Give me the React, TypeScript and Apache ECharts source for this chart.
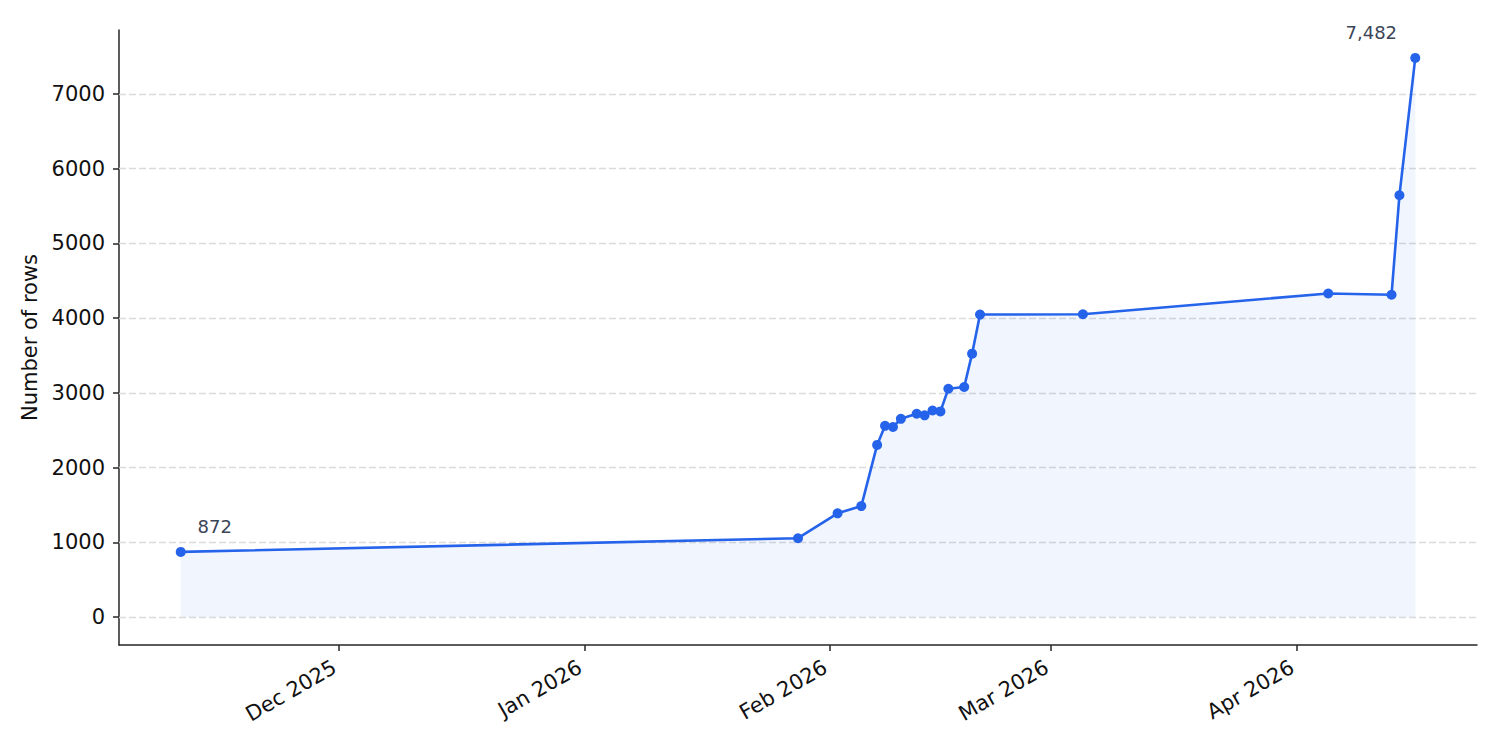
import React, { useEffect, useRef } from "react";
import * as echarts from "echarts";

const dates = [
  "2025-11-11", "2026-01-28", "2026-02-02", "2026-02-05", "2026-02-07",
  "2026-02-08", "2026-02-09", "2026-02-10", "2026-02-12", "2026-02-13",
  "2026-02-14", "2026-02-15", "2026-02-16", "2026-02-18", "2026-02-19",
  "2026-02-20", "2026-03-05", "2026-04-05", "2026-04-13", "2026-04-14",
  "2026-04-16",
];
const rows = [
  872, 1055, 1388, 1485, 2304,
  2559, 2543, 2653, 2720, 2699,
  2764, 2752, 3055, 3078, 3525,
  4048, 4052, 4330, 4313, 5645,
  7482,
];
const monthTicks = ["2025-12-01", "2026-01-01", "2026-02-01", "2026-03-01", "2026-04-01"];
const monthLabels = ["Dec 2025", "Jan 2026", "Feb 2026", "Mar 2026", "Apr 2026"];
const yTicks = [0, 1000, 2000, 3000, 4000, 5000, 6000, 7000];
const yLabel = "Number of rows";

const toDay = (s: string) => {
  const [y, m, d] = s.split("-").map(Number);
  return Date.UTC(y, m - 1, d) / 86400000;
};

const FONT = "DejaVu Sans";
const FS = 21;

export default function App() {
  const ref = useRef<HTMLDivElement>(null);
  useEffect(() => {
    if (!ref.current) return;
    const chart = echarts.init(ref.current, undefined, { renderer: "svg" });
    const xs = dates.map(toDay);
    const x0 = Math.min(...xs);
    const x1 = Math.max(...xs);
    const xpad = (x1 - x0) * 0.05;
    const ymax = Math.max(...rows);
    const ypad = ymax * 0.05;
    const tickDays = monthTicks.map(toDay);
    const lastIdx = rows.length - 1;

    const data = xs.map((x, i) => {
      const item: any = { value: [x, rows[i]] };
      if (i === 0 || i === lastIdx) {
        item.label = {
          show: true,
          position: "top",
          offset: i === 0 ? [34, -6] : [-44, -6],
          formatter: (p: any) => Number(p.value[1]).toLocaleString("en-US"),
          color: "#3a4556",
          fontSize: 18,
          fontFamily: FONT,
        };
      }
      return item;
    });

    chart.setOption({
      animation: false,
      backgroundColor: "#ffffff",
      grid: { left: 119, right: 23, top: 30, bottom: 105, containLabel: false, outerBoundsMode: "none" },
      xAxis: {
        type: "value",
        min: x0 - xpad,
        max: x1 + xpad,
        splitLine: { show: false },
        axisLine: { show: true, onZero: false, lineStyle: { color: "#262626", width: 1.5 } },
        axisTick: {
          show: true,
          length: 6,
          customValues: tickDays,
          lineStyle: { color: "#262626", width: 1.5 },
        },
        axisLabel: {
          customValues: tickDays,
          rotate: 30,
          margin: 18,
          padding: [0, 5, 0, 0],
          fontSize: FS,
          fontFamily: FONT,
          color: "#111111",
          formatter: (v: number) => {
            const idx = tickDays.findIndex((t) => Math.abs(t - v) < 0.5);
            return idx >= 0 ? monthLabels[idx] : "";
          },
        },
      },
      yAxis: {
        type: "value",
        min: -ypad,
        max: ymax + ypad,
        name: yLabel,
        nameLocation: "middle",
        nameGap: 74,
        nameRotate: 90,
        nameTextStyle: { fontSize: FS, fontFamily: FONT, color: "#111111" },
        splitLine: { show: false },
        axisLine: { show: true, onZero: false, lineStyle: { color: "#262626", width: 1.5 } },
        axisTick: {
          show: true,
          length: 6,
          customValues: yTicks,
          lineStyle: { color: "#262626", width: 1.5 },
        },
        axisLabel: {
          customValues: yTicks,
          margin: 14,
          fontSize: FS,
          fontFamily: FONT,
          color: "#111111",
          formatter: (v: number) => String(v),
        },
      },
      series: [
        {
          type: "line",
          data,
          symbol: "circle",
          symbolSize: 10,
          showSymbol: true,
          itemStyle: { color: "#2563eb" },
          lineStyle: { color: "#2563eb", width: 2.6 },
          areaStyle: { color: "rgba(37,99,235,0.095)" },
          z: 3,
          markLine: {
            silent: true,
            symbol: ["none", "none"],
            label: { show: false },
            lineStyle: { color: "#dadada", type: [7, 3], width: 1.3 },
            data: yTicks.map((v) => ({ yAxis: v })),
            z: 1,
          },
        },
      ],
    });
    return () => chart.dispose();
  }, []);

  return (
    <div
      ref={ref}
      style={{ position: "absolute", left: 0, top: 0, width: 1500, height: 750 }}
    />
  );
}
